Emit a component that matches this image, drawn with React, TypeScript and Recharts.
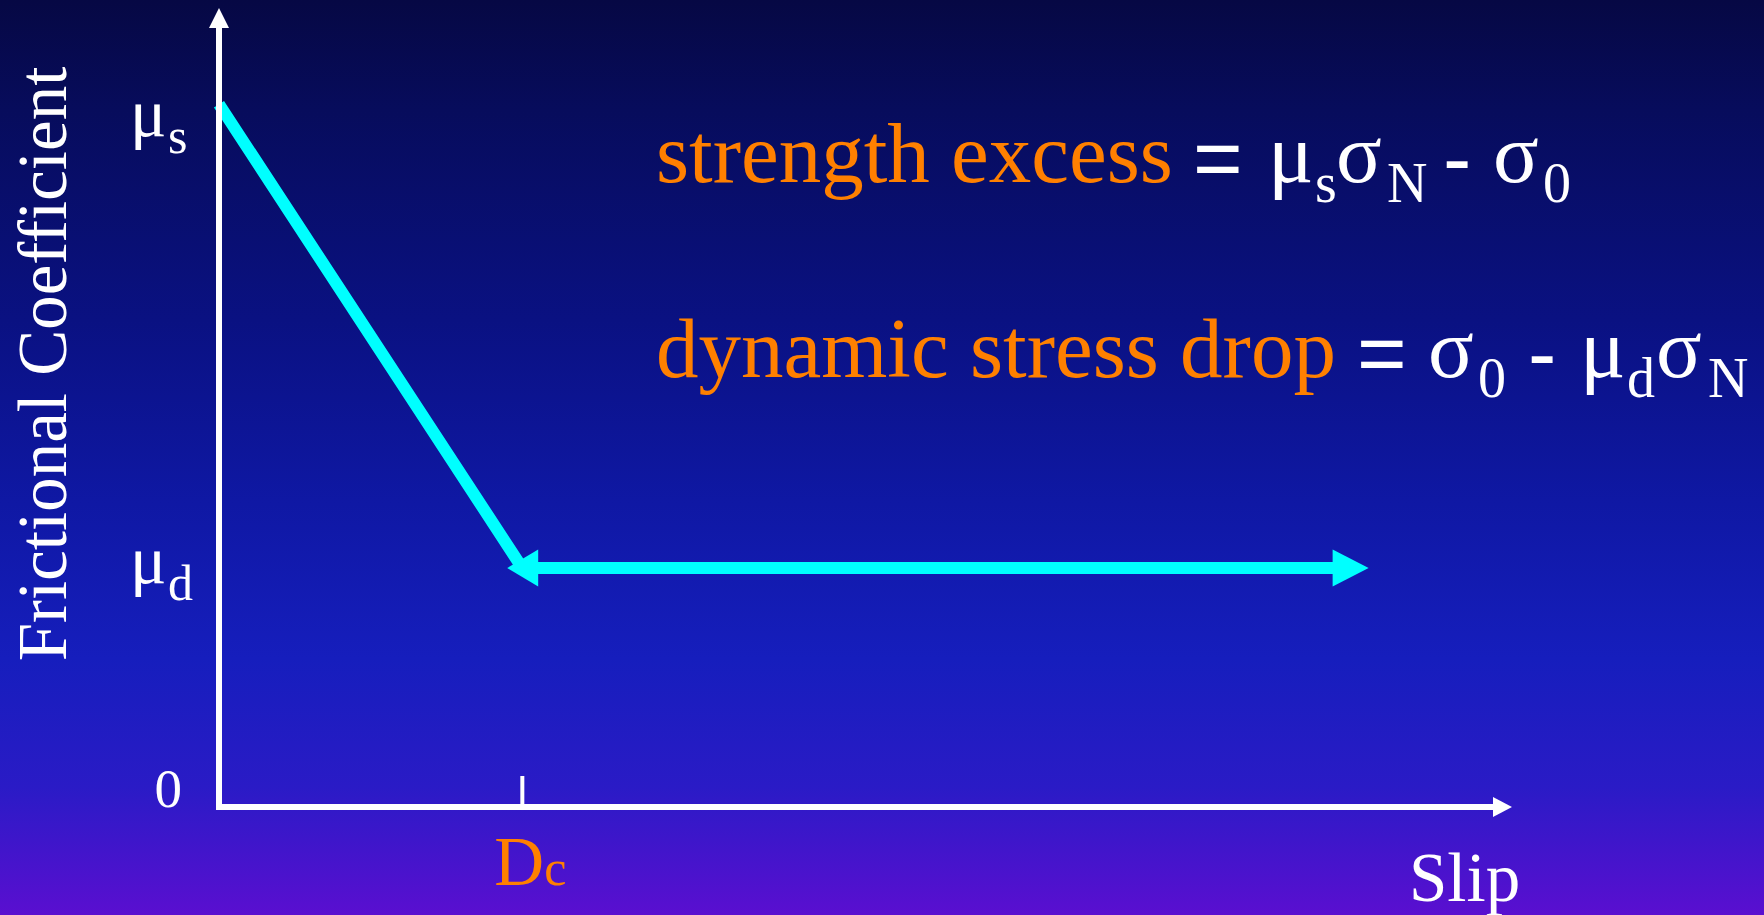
import { ComposedChart, Line, Scatter, XAxis, YAxis } from "recharts";

// slip in units of Dc, friction in arbitrary units
const MU_S = 0.7;
const MU_D = 0.238;
const DC = 1;

const slipValues = [0, DC, 3.68];
const frictionValues = [MU_S, MU_D, MU_D];

// cyan arrow heads (tip positions)
const headSlip = [0.95, 3.79];
const headFriction = [MU_D, MU_D];
const headDirs = ["left", "right"];

const xAxisEnd = 4.2;
const yAxisEnd = 0.776;
const yTicks = [0, MU_D, MU_S];
const xTicks = [DC];

const CYAN = "#00ffff";
const ORANGE = "#ff8000";
const SERIF = '"Liberation Serif", "Times New Roman", serif';
const SANS = '"Liberation Sans", Arial, sans-serif';

const lineData = slipValues.map((s, i) => ({ slip: s, mu: frictionValues[i] }));
const headData = headSlip.map((s, i) => ({ slip: s, mu: headFriction[i], dir: headDirs[i] }));
const axisHeads = [
  { slip: 0, mu: yAxisEnd, dir: "up" },
  { slip: xAxisEnd, mu: 0, dir: "right" },
];

function CyanHead(props: any) {
  const { cx, cy, payload } = props;
  if (payload.dir === "left") {
    const len = 31, h = 18.5;
    return <polygon points={`${cx},${cy} ${cx + len},${cy - h} ${cx + len},${cy + h}`} fill={CYAN} />;
  }
  const len = 36, h = 18.5;
  return <polygon points={`${cx},${cy} ${cx - len},${cy - h} ${cx - len},${cy + h}`} fill={CYAN} />;
}

function AxisHead(props: any) {
  const { cx, cy, payload } = props;
  if (payload.dir === "up") {
    return <polygon points={`${cx},${cy - 20} ${cx - 10},${cy} ${cx + 10},${cy}`} fill="#fff" />;
  }
  return <polygon points={`${cx + 19},${cy} ${cx},${cy - 10} ${cx},${cy + 10}`} fill="#fff" />;
}

function YTick(props: any) {
  const { y, payload } = props;
  const v = payload.value;
  if (v === 0) {
    return (
      <text x={182} y={y} textAnchor="end" fill="#fff" fontFamily={SERIF} fontSize={55}>
        0
      </text>
    );
  }
  const isS = v === MU_S;
  const base = isS ? y + 32 : y + 15;
  return (
    <g fill="#fff" fontFamily={SERIF}>
      <text x={130} y={base} fontSize={68}>μ</text>
      <text x={168} y={base + 17} fontSize={50}>{isS ? "s" : "d"}</text>
    </g>
  );
}

function XTick(props: any) {
  const { x, y } = props;
  return (
    <g>
      <line x1={x} y1={y - 31} x2={x} y2={y} stroke="#fff" strokeWidth={4} />
      <text x={x - 28} y={y + 78} fill={ORANGE} fontFamily={SERIF}>
        <tspan fontSize={69}>D</tspan>
        <tspan fontSize={50}>c</tspan>
      </text>
    </g>
  );
}

function YTitle(props: any) {
  const { viewBox } = props;
  const x = viewBox.x + 66;
  const y = 364;
  return (
    <text
      x={x}
      y={y}
      transform={`rotate(-90 ${x} ${y})`}
      textAnchor="middle"
      fill="#fff"
      fontFamily={SERIF}
      fontSize={69}
    >
      Frictional Coefficient
    </text>
  );
}

function XTitle(props: any) {
  const { viewBox } = props;
  return (
    <text x={viewBox.x + viewBox.width - 84} y={viewBox.y + 94} fill="#fff" fontFamily={SERIF} fontSize={69}>
      Slip
    </text>
  );
}

function Formulas() {
  const big = 85;
  const sub = 56;
  const w = "#fff";
  return (
    <svg
      width={1764}
      height={915}
      style={{ position: "absolute", left: 0, top: 0, pointerEvents: "none" }}
    >
      <g fontFamily={SERIF}>
        <text x={656} y={182} fill={ORANGE} fontSize={big}>strength excess</text>
        <text x={1193} y={187} fill={w} fontSize={big} fontFamily={SANS}>=</text>
        <text x={1268} y={182} fill={w} fontSize={big}>μ</text>
        <text x={1315} y={202} fill={w} fontSize={sub}>s</text>
        <text x={1336} y={182} fill={w} fontSize={big}>σ</text>
        <text x={1387} y={202} fill={w} fontSize={sub}>N</text>
        <text x={1443} y={187} fill={w} fontSize={big} fontFamily={SANS}>-</text>
        <text x={1493} y={182} fill={w} fontSize={big}>σ</text>
        <text x={1543} y={202} fill={w} fontSize={sub}>0</text>

        <text x={656} y={377} fill={ORANGE} fontSize={big}>dynamic stress drop</text>
        <text x={1357} y={382} fill={w} fontSize={big} fontFamily={SANS}>=</text>
        <text x={1428} y={377} fill={w} fontSize={big}>σ</text>
        <text x={1478} y={397} fill={w} fontSize={sub}>0</text>
        <text x={1528} y={382} fill={w} fontSize={big} fontFamily={SANS}>-</text>
        <text x={1580} y={377} fill={w} fontSize={big}>μ</text>
        <text x={1627} y={397} fill={w} fontSize={sub}>d</text>
        <text x={1656} y={377} fill={w} fontSize={big}>σ</text>
        <text x={1708} y={397} fill={w} fontSize={sub}>N</text>
      </g>
    </svg>
  );
}

export default function App() {
  const axisLine = { stroke: "#fff", strokeWidth: 6, strokeLinecap: "square" as const };
  return (
    <div
      style={{
        position: "absolute",
        left: 0,
        top: 0,
        width: 1764,
        height: 915,
        overflow: "hidden",
        background:
          "linear-gradient(to bottom, #060844 0%, #070c5c 12%, #0a1182 35%, #0f18a4 55%, #161ebd 72%, #2a1bc6 86%, #5a0fd0 100%)",
      }}
    >
      <ComposedChart width={1764} height={915} margin={{ top: 28, right: 271, bottom: 0, left: 0 }}>
        <XAxis
          type="number"
          dataKey="slip"
          domain={[0, xAxisEnd]}
          ticks={xTicks}
          interval={0}
          tick={<XTick />}
          tickSize={0}
          tickMargin={0}
          tickLine={false}
          axisLine={axisLine}
          height={108}
          label={{ value: "Slip", content: XTitle }}
        />
        <YAxis
          type="number"
          dataKey="mu"
          domain={[0, yAxisEnd]}
          ticks={yTicks}
          interval={0}
          tick={<YTick />}
          tickSize={0}
          tickMargin={0}
          tickLine={false}
          axisLine={axisLine}
          width={219}
          label={{ value: "Frictional Coefficient", content: YTitle }}
        />
        <Scatter data={axisHeads} dataKey="mu" shape={AxisHead} isAnimationActive={false} />
        <Line
          data={lineData}
          dataKey="mu"
          type="linear"
          stroke={CYAN}
          strokeWidth={12}
          dot={false}
          activeDot={false}
          isAnimationActive={false}
        />
        <Scatter data={headData} dataKey="mu" shape={CyanHead} isAnimationActive={false} />
      </ComposedChart>
      <Formulas />
    </div>
  );
}
